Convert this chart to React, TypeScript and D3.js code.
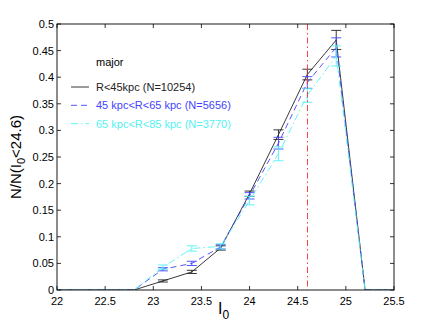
import React from "react";
import * as d3 from "d3";

const mags = [21.9, 22.2, 22.5, 22.8, 23.1, 23.4, 23.7, 24.0, 24.3, 24.6, 24.9, 25.2, 25.5];
const inner = [0, 0, 0, 0, 0.017, 0.034, 0.079, 0.181, 0.292, 0.405, 0.47, 0, 0];
const innerErr = [0, 0, 0, 0, 0.002, 0.003, 0.004, 0.005, 0.009, 0.01, 0.018, 0, 0];
const middle = [0, 0, 0, 0, 0.039, 0.05, 0.081, 0.177, 0.276, 0.39, 0.456, 0, 0];
const middleErr = [0, 0, 0, 0, 0.003, 0.004, 0.004, 0.006, 0.011, 0.011, 0.018, 0, 0];
const outer = [0, 0, 0, 0, 0.043, 0.078, 0.082, 0.168, 0.256, 0.366, 0.44, 0, 0];
const outerErr = [0, 0, 0, 0, 0.004, 0.005, 0.005, 0.008, 0.013, 0.013, 0.019, 0, 0];

const xTicks = [22, 22.5, 23, 23.5, 24, 24.5, 25, 25.5];
const yTicks = [0, 0.05, 0.1, 0.15, 0.2, 0.25, 0.3, 0.35, 0.4, 0.45, 0.5];
const cutMag = 24.6;

const series = [
  { label: "R<45kpc (N=10254)", values: inner, err: innerErr, color: "#222222", dash: "" },
  { label: "45 kpc<R<65 kpc (N=5656)", values: middle, err: middleErr, color: "#4444ff", dash: "6,4" },
  { label: "65 kpc<R<85 kpc (N=3770)", values: outer, err: outerErr, color: "#55f2f2", dash: "7,3,1.5,3" },
];

const W = 436;
const H = 328;
const left = 57, right = 394, top = 24, bottom = 290;
const font = "'Liberation Sans', Arial, sans-serif";

export default function App() {
  const x = d3.scaleLinear().domain([22, 25.5]).range([left, right]);
  const y = d3.scaleLinear().domain([0, 0.5]).range([bottom, top]);

  const line = d3
    .line<number>()
    .x((_, i) => x(mags[i]))
    .y((d) => y(d));

  const cutX = Math.round(x(cutMag)) + 0.5;

  return (
    <svg width={W} height={H} style={{ position: "absolute", left: 0, top: 0, background: "#fff" }}>
      <defs>
        <clipPath id="plot">
          <rect x={left} y={top} width={right - left} height={bottom - top} />
        </clipPath>
      </defs>

      {/* ticks, inward on all four sides */}
      {xTicks.map((t) => (
        <g key={"x" + t}>
          <line x1={x(t)} x2={x(t)} y1={bottom} y2={bottom - 4} stroke="#000" strokeWidth={0.8} />
          <line x1={x(t)} x2={x(t)} y1={top} y2={top + 4} stroke="#000" strokeWidth={0.8} />
          <text x={x(t)} y={bottom + 15} textAnchor="middle" fontFamily={font} fontSize={11}>
            {t}
          </text>
        </g>
      ))}
      {yTicks.map((t) => (
        <g key={"y" + t}>
          <line x1={left} x2={left + 4} y1={y(t)} y2={y(t)} stroke="#000" strokeWidth={0.8} />
          <line x1={right} x2={right - 4} y1={y(t)} y2={y(t)} stroke="#000" strokeWidth={0.8} />
          <text x={left - 3} y={y(t) + 4} textAnchor="end" fontFamily={font} fontSize={11}>
            {t}
          </text>
        </g>
      ))}

      <g clipPath="url(#plot)">
        {series.map((s) => (
          <g key={s.label}>
            <path d={line(s.values) || ""} fill="none" stroke={s.color} strokeWidth={0.9} strokeDasharray={s.dash} />
            {s.values.map((v, i) =>
              s.err[i] > 0 ? (
                <g key={i} stroke={s.color} strokeWidth={0.9}>
                  <line x1={x(mags[i])} x2={x(mags[i])} y1={y(v - s.err[i])} y2={y(v + s.err[i])} />
                  <line x1={x(mags[i]) - 5} x2={x(mags[i]) + 5} y1={y(v - s.err[i])} y2={y(v - s.err[i])} />
                  <line x1={x(mags[i]) - 5} x2={x(mags[i]) + 5} y1={y(v + s.err[i])} y2={y(v + s.err[i])} />
                </g>
              ) : null
            )}
          </g>
        ))}
        <line
          x1={cutX}
          x2={cutX}
          y1={top}
          y2={bottom}
          stroke="#ff2a2a"
          strokeWidth={0.9}
          strokeDasharray="6,3,1.5,3"
        />
      </g>

      <rect x={left} y={top} width={right - left} height={bottom - top} fill="none" stroke="#000" strokeWidth={0.9} />

      {/* legend */}
      <text x={96} y={66} fontFamily={font} fontSize={11}>
        major
      </text>
      {series.map((s, i) => (
        <g key={"leg" + i}>
          <line x1={71} x2={89} y1={87 + i * 18.3} y2={87 + i * 18.3} stroke={s.color} strokeWidth={0.9} strokeDasharray={s.dash} />
          <text x={96} y={91 + i * 18.3} fontFamily={font} fontSize={11} fill={s.color}>
            {s.label}
          </text>
        </g>
      ))}

      {/* axis labels */}
      <text x={218} y={314} fontFamily={font} fontSize={16}>
        I<tspan fontSize={12} dy={5}>0</tspan>
      </text>
      <text transform="translate(21,157) rotate(-90)" textAnchor="middle" fontFamily={font} fontSize={15}>
        N/N(I<tspan fontSize={11} dy={4}>0</tspan>
        <tspan dy={-4}>&lt;24.6)</tspan>
      </text>
    </svg>
  );
}
